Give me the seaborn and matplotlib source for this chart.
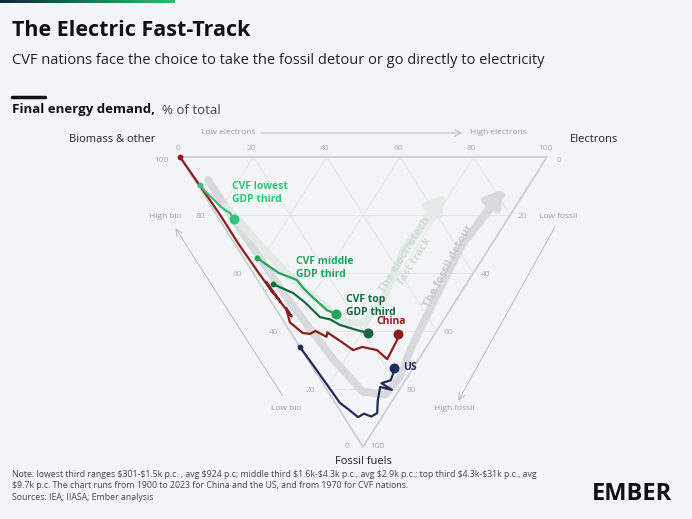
import numpy as np
import matplotlib
matplotlib.use("Agg")
import matplotlib.pyplot as plt
import seaborn as sns

# ---- data: (electrons %, fossil %) ; biomass = 100 - e - f
china_e = [0, 0.5, 1, 1, 1.5, 2, 2, 2.5, 2, 3, 3, 1.5, 3.2, 5, 7, 9, 10, 12, 14, 17, 20.5, 21.7, 27.7, 29]
china_f = [0, 10, 20, 30, 40, 47, 43, 50, 46, 55, 52, 57, 60.7, 61, 60, 62, 60.5, 63.4, 66.6, 65.5, 66.6, 69.7, 63.1, 61]
us_e = [0, 0.5, 1.3, 2.5, 3.8, 6, 7.5, 9.7, 12, 15, 17.7, 16, 19, 21, 22]
us_f = [65.5, 72, 84.8, 87, 89.7, 88.5, 89.5, 88.3, 84, 79.3, 80.3, 78, 77, 74.5, 72.8]
low_e = [0.6, 1, 2, 2.5, 3.3, 4, 4]
low_f = [9.7, 12, 15, 17, 18.5, 19.3, 21.4]
mid_e = [3.6, 5, 7, 10.7, 11, 12, 13.7, 15.5]
mid_f = [34.8, 37, 40, 42.4, 45, 48.3, 52.8, 54.1]
top_e = [3.5, 5, 7.4, 9, 10.6, 13, 14.7, 17, 18.5, 21]
top_f = [43.8, 45, 46.9, 50, 55.2, 56, 57.9, 59, 59.7, 60.7]
detour_e = [3.7, 4, 5, 7, 9.5, 15, 22, 30, 45, 62, 81]
detour_f = [7.9, 25, 50, 70, 81, 82, 76, 66, 49, 30, 13.1]
electro_e = [4, 6, 9, 13, 17, 22, 30, 45, 64]
electro_f = [17, 27, 40, 50, 57, 57, 50, 32, 15]
ticks = [0, 20, 40, 60, 80, 100]

# ---- layout (pixel space of a 692x519 figure)
TL = np.array([180.0, 157.0]); TR = np.array([547.0, 157.0]); BT = np.array([363.0, 447.0])
def proj(e, f):
    e = np.asarray(e) / 100.0; f = np.asarray(f) / 100.0; b = 1 - e - f
    p = np.outer(b, TL) + np.outer(e, TR) + np.outer(f, BT)
    return p[:, 0], p[:, 1]

bg = "#f4f5f7"
sns.set_theme(style="white", rc={"axes.facecolor": bg, "figure.facecolor": bg})
plt.rcParams["font.family"] = ["Open Sans", "DejaVu Sans"]
fig = plt.figure(figsize=(6.92, 5.19), dpi=100)
ax = fig.add_axes([0, 0, 1, 1])
ax.set_xlim(0, 692); ax.set_ylim(519, 0); ax.axis("off")

# header
ax.imshow(np.linspace(0, 1, 100)[None, :], cmap=matplotlib.colors.LinearSegmentedColormap.from_list("g", ["#0e2a3a", "#2dbd6e"]),
          extent=[0, 175, 3, 0], aspect="auto")
ax.text(12, 30, "The Electric Fast-Track", fontsize=15.5, fontweight="bold", color="#111", va="center")
ax.text(12, 61, "CVF nations face the choice to take the fossil detour or go directly to electricity", fontsize=10.5, color="#222", va="center")
ax.plot([12, 45], [97, 97], color="#111", lw=2.5)
ax.text(12, 110, "Final energy demand,", fontsize=9.5, fontweight="bold", color="#111", va="center")
ax.text(162, 110, "% of total", fontsize=9.5, color="#444", va="center")

# grid
gc = "#e2e4e8"
for v in [20, 40, 60, 80]:
    for a, b in [(proj([v, v], [0, 100 - v])), (proj([0, 100 - v], [v, v])), (proj([0, 100 - v], [100 - v, 0]))]:
        ax.plot(a, b, color=gc, lw=0.7, zorder=1)
tx, ty = proj([0, 100, 0, 0], [0, 0, 100, 0])
ax.plot(tx, ty, color="#c9ccd2", lw=1.2, zorder=1)

tc = "#aaaaaa"
for v in ticks:
    x, y = proj([v], [0]); ax.text(x[0] - 2, 148, str(v), fontsize=6, color=tc, ha="center", va="center")
for v in ticks[1:-1]:
    x, y = proj([0], [100 - v]); ax.text(x[0] - 16, y[0] + 2, str(v), fontsize=6, color=tc, ha="center", va="center")
    x, y = proj([100 - v], [v]); ax.text(x[0] + 12, y[0] + 2, str(v), fontsize=6, color=tc, ha="center", va="center")
ax.text(161, 160, "100", fontsize=6, color=tc, ha="center", va="center")
ax.text(559, 160, "0", fontsize=6, color=tc, ha="center", va="center")
ax.text(347, 447, "0", fontsize=6, color=tc, ha="center", va="center")
ax.text(377, 447, "100", fontsize=6, color=tc, ha="center", va="center")

lc = "#999999"
ax.text(228, 133, "Low electrons", fontsize=6, color=lc, ha="center", va="center")
ax.text(498, 133, "High electrons", fontsize=6, color=lc, ha="center", va="center")
ax.annotate("", xy=(465, 133), xytext=(258, 133), arrowprops=dict(arrowstyle="->", color="#bbb", lw=0.7))
ax.text(165, 217, "High bio", fontsize=6, color=lc, ha="center", va="center")
ax.text(286, 409, "Low bio", fontsize=6, color=lc, ha="center", va="center")
ax.annotate("", xy=(174, 226), xytext=(284, 398), arrowprops=dict(arrowstyle="->", color="#bbb", lw=0.7))
ax.text(558, 216, "Low fossil", fontsize=6, color=lc, ha="center", va="center")
ax.text(454, 408, "High fossil", fontsize=6, color=lc, ha="center", va="center")
ax.annotate("", xy=(457, 403), xytext=(556, 225), arrowprops=dict(arrowstyle="->", color="#bbb", lw=0.7))
ax.text(112, 139, "Biomass & other", fontsize=8, color="#222", ha="center", va="center")
ax.text(594, 139, "Electrons", fontsize=8, color="#222", ha="center", va="center")
ax.text(363, 462, "Fossil fuels", fontsize=8, color="#222", ha="center", va="center")

# tracks
x, y = proj(detour_e, detour_f)
ax.plot(x, y, color="#d9dadd", lw=5.5, solid_capstyle="round", zorder=2)
ax.annotate("", xy=(x[-1] + 3, y[-1] - 8), xytext=(x[-2], y[-2]), arrowprops=dict(arrowstyle="-|>,head_width=0.5,head_length=0.8", color="#d9dadd", lw=5))
x, y = proj(electro_e, electro_f)
ax.plot(x, y, color="#e1ece6", lw=5.5, solid_capstyle="round", zorder=2)
ax.annotate("", xy=(x[-1] + 3, y[-1] - 8), xytext=(x[-2], y[-2]), arrowprops=dict(arrowstyle="-|>,head_width=0.5,head_length=0.8", color="#e1ece6", lw=5))
ax.text(410, 258, "The electrotech\nfast track", fontsize=8, color="#cfdcd4", rotation=58, ha="center", va="center", fontweight="bold")
ax.text(449, 266, "The fossil detour", fontsize=8, color="#c8c9cc", rotation=62, ha="center", va="center", fontweight="bold")

# series
series = [(china_e, china_f, "#8c1d1d", "China", (391, 322)),
          (us_e, us_f, "#1c2c5e", "US", (403, 367)),
          (low_e, low_f, "#2fc477", "CVF lowest\nGDP third", (232, 193)),
          (mid_e, mid_f, "#23a35c", "CVF middle\nGDP third", (296, 268)),
          (top_e, top_f, "#17683f", "CVF top\nGDP third", (346, 306))]
for e, f, c, lab, (lx, ly) in series:
    x, y = proj(e, f)
    sns.lineplot(x=x, y=y, sort=False, estimator=None, color=c, lw=1.6, ax=ax, zorder=4)
    ax.scatter([x[0]], [y[0]], s=10, color=c, zorder=5)
    ax.scatter([x[-1]], [y[-1]], s=38, color=c, zorder=5)
    ax.text(lx, ly, lab, fontsize=7.5, color=c, fontweight="bold", ha="left" if lab != "China" else "center", va="center")

ax.text(12, 486, "Note: lowest third ranges \\$301-\\$1.5k p.c. , avg \\$924 p.c; middle third \\$1.6k-\\$4.3k p.c., avg \\$2.9k p.c.; top third \\$4.3k-\\$31k p.c., avg\n\\$9.7k p.c. The chart runs from 1900 to 2023 for China and the US, and from 1970 for CVF nations.\nSources: IEA; IIASA; Ember analysis",
        fontsize=6.3, color="#444", va="center", linespacing=1.4)
ax.text(632, 494, "EMBER", fontsize=17, fontweight="bold", color="#111", ha="center", va="center")
fig.savefig("out.png", dpi=100, facecolor=bg)
